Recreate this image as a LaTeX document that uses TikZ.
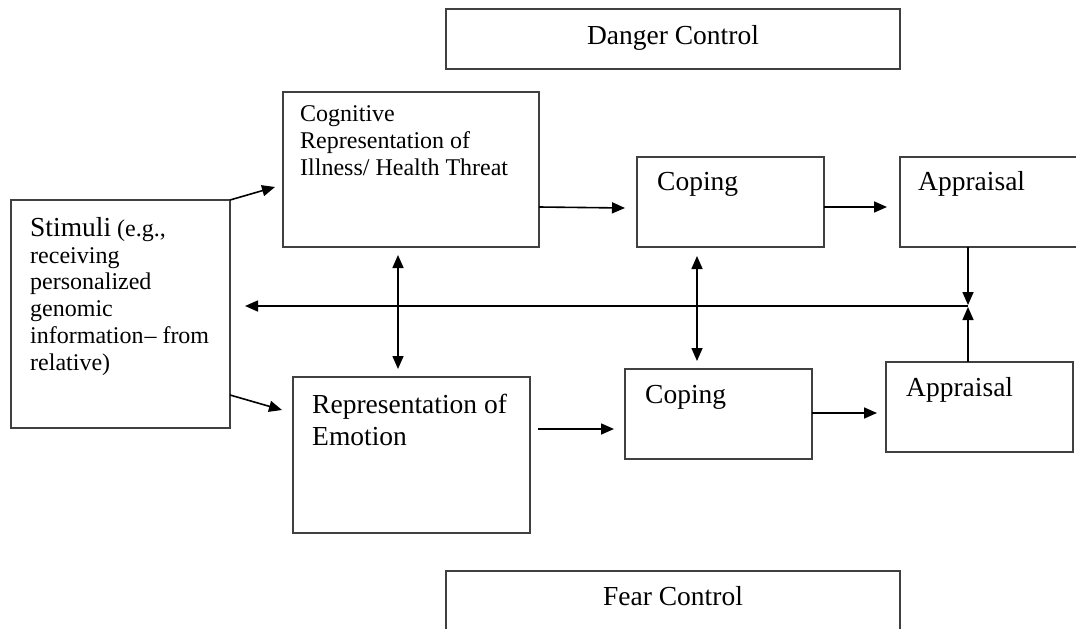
\documentclass[tikz,border=0pt]{standalone}
\usepackage{fontspec}
\setmainfont{Liberation Serif}
\usetikzlibrary{arrows.meta}

\newcommand{\bigtxt}{\fontsize{27.5}{32}\selectfont}
\newcommand{\smalltxt}{\fontsize{24}{26.7}\selectfont}

\tikzset{
  box/.style={draw=black!75, line width=1.8pt, rectangle, inner sep=0pt, outer sep=0pt},
  lbl/.style={inner sep=0pt, anchor=base west, align=left, text=black},
  clbl/.style={inner sep=0pt, anchor=base, text=black},
  arr/.style={line width=1.6pt, -{Triangle[length=13pt,width=11pt]}},
  darr/.style={line width=1.6pt, {Triangle[length=13pt,width=11pt]}-{Triangle[length=13pt,width=11pt]}},
}

\begin{document}
\begin{tikzpicture}[x=1pt, y=-1pt]
  \clip (0,0) rectangle (1076,629);
  \fill[white] (0,0) rectangle (1076,629);

  % boxes
  \node[box, minimum width=454pt, minimum height=60pt]  (danger) at (673,39) {};
  \node[box, minimum width=256pt, minimum height=155pt] (cog)    at (411,169.5) {};
  \node[box, minimum width=187pt, minimum height=90pt]  (cop1)   at (730.5,202) {};
  \node[box, minimum width=190pt, minimum height=90pt]  (app1)   at (995,202) {};
  \node[box, minimum width=219pt, minimum height=228pt] (stim)   at (120.5,314) {};
  \node[box, minimum width=237pt, minimum height=156pt] (emo)    at (411.5,455) {};
  \node[box, minimum width=187pt, minimum height=90pt]  (cop2)   at (718.5,414) {};
  \node[box, minimum width=187pt, minimum height=90pt]  (app2)   at (979.5,407) {};
  \node[box, minimum width=454pt, minimum height=69pt]  (fear)   at (673,605.5) {};

  % labels (multi-line labels are placed by the baseline of their last line)
  \node[clbl, font=\bigtxt] (tdanger) at (673,44) {Danger Control};
  \node[clbl, font=\bigtxt] (tfear)   at (673,605) {Fear Control};
  \node[lbl, font=\smalltxt] (tcog) at (300,175)
    {Cognitive\\Representation of\\Illness/ Health Threat};
  \node[lbl, font=\bigtxt] (tcop1) at (657,190) {Coping};
  \node[lbl, font=\bigtxt] (tapp1) at (918,190) {Appraisal};
  \node[lbl, font=\smalltxt] (tstim) at (30,370)
    {{\bigtxt Stimuli} (e.g.,\\receiving\\personalized\\genomic\\information\kern1pt– from\\relative)};
  \node[lbl, font=\bigtxt] (temo) at (312,445) {Representation of\\Emotion};
  \node[lbl, font=\bigtxt] (tcop2) at (645,403) {Coping};
  \node[lbl, font=\bigtxt] (tapp2) at (906,396) {Appraisal};

  % junction of the feedback lines
  \coordinate (jn) at (968,306);

  % connectors
  \draw[arr] (stim.north east) -- ([shift={(-8,95)}]cog.north west);
  \draw[arr] ([shift={(0,-33)}]stim.south east) -- ([shift={(-11,33)}]emo.north west);
  \draw[arr] ([shift={(0,115)}]cog.north east) -- ([shift={(-12,51)}]cop1.north west);
  \draw[arr] ([shift={(0,50)}]cop1.north east) -- ([shift={(-13,50)}]app1.north west);
  \draw[arr] ([shift={(8,52)}]emo.north east) -- ([shift={(-11,60)}]cop2.north west);
  \draw[arr] ([shift={(0,44)}]cop2.north east) -- ([shift={(-9,51)}]app2.north west);
  \draw[darr] ([shift={(-13,8)}]cog.south) -- ([shift={(-13.5,-8)}]emo.north);
  \draw[darr] ([shift={(-33.5,9)}]cop1.south) -- ([shift={(-21.5,-8)}]cop2.north);
  \draw[arr] ([shift={(68,0)}]app1.south west) -- ([shift={(0,-1)}]jn);
  \draw[arr] ([shift={(82,0)}]app2.north west) -- ([shift={(0,1)}]jn);
  \draw[arr] (jn) -- ([shift={(15,-8)}]stim.east);
\end{tikzpicture}
\end{document}
